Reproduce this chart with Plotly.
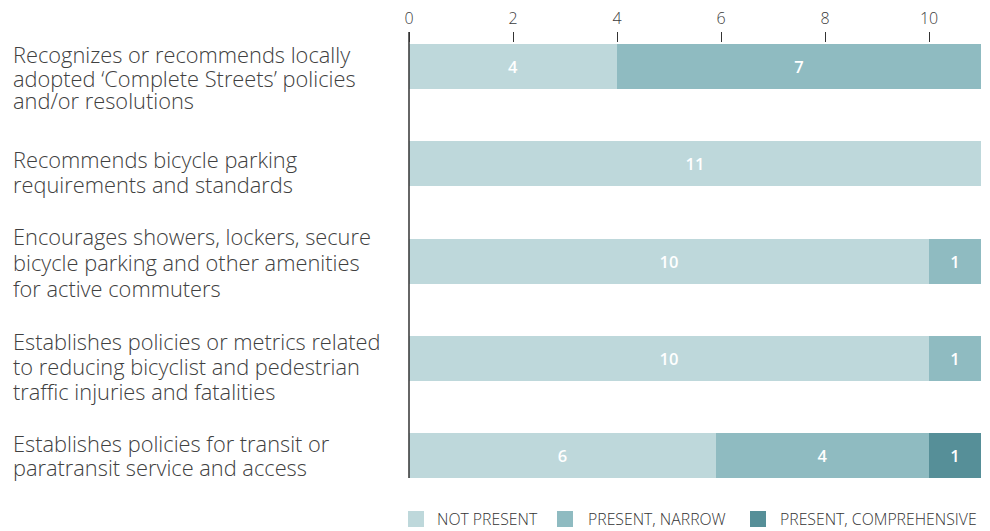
import plotly.graph_objects as go

categories = [
    "Recognizes or recommends locally<br>adopted ‘Complete Streets’ policies<br>and/or resolutions",
    "Recommends bicycle parking<br>requirements and standards",
    "Encourages showers, lockers, secure<br>bicycle parking and other amenities<br>for active commuters",
    "Establishes policies or metrics related<br>to reducing bicyclist and pedestrian<br>traffic injuries and fatalities",
    "Establishes policies for transit or<br>paratransit service and access",
]
series_names = ["NOT PRESENT", "PRESENT, NARROW", "PRESENT, COMPREHENSIVE"]
not_present = [4, 11, 10, 10, 5.9]
present_narrow = [7, None, 1, 1, 4.1]
present_comprehensive = [None, None, None, None, 1]
x_ticks = [0, 2, 4, 6, 8, 10]

colors = ["#bed8db", "#8fbbc1", "#568f98"]
FONT = "Open Sans"

W, H = 990, 531
ml, mr, mt, mb = 409, 9, 43, 53
ph = H - mt - mb
pw = W - ml - mr

positions = list(range(len(categories)))

fig = go.Figure()
for name, vals, col in zip(series_names, [not_present, present_narrow, present_comprehensive], colors):
    fig.add_trace(go.Bar(
        y=positions, x=vals, name=name, orientation="h",
        marker=dict(color=col, line=dict(width=0)),
        width=0.4625,
        texttemplate="%{x:.0f}", textposition="inside", insidetextanchor="middle",
        textfont=dict(family=FONT, size=16.5, color="white", weight=600),
        showlegend=False,
    ))

fig.update_layout(
    width=W, height=H,
    margin=dict(l=ml, r=mr, t=mt, b=mb, autoexpand=False),
    barmode="stack",
    plot_bgcolor="white", paper_bgcolor="white",
    font=dict(family=FONT, color="#444"),
    xaxis=dict(side="top", range=[0, 11], tickvals=x_ticks, ticks="outside", ticklen=10,
               tickcolor="#333", tickwidth=1.2, showgrid=False, zeroline=False, showline=False,
               automargin=False, ticklabelstandoff=2,
               tickfont=dict(family=FONT, size=16, color="#3c3c3c", weight=300)),
    yaxis=dict(range=[4.231, -0.2415], showticklabels=False, showgrid=False, zeroline=False,
               showline=False, ticks="", automargin=False),
)

def py2paper(py):
    return (H - mb - py) / ph

# vertical axis line extending up to the tick marks
fig.add_shape(type="line", xref="paper", yref="paper", x0=0, x1=0,
              y0=py2paper(478), y1=py2paper(32), line=dict(color="#333", width=1.5))

# category labels (left aligned), one annotation per line
label_line_centers_px = [
    [54, 78, 101],
    [159, 184],
    [237, 262, 288],
    [341, 366, 391],
    [443, 467],
]
for cat, centers in zip(categories, label_line_centers_px):
    for line, py in zip(cat.split("<br>"), centers):
        fig.add_annotation(
            text=line, xref="paper", yref="paper",
            x=(11 - ml) / pw, y=py2paper(py),
            xanchor="left", yanchor="middle", align="left", showarrow=False,
            font=dict(family=FONT, size=21.8, color="#404040", weight=300),
        )

# legend drawn manually
sq_x = [408, 557, 750]
txt_x = [435, 586, 778]
sq_y0, sq_y1 = 511, 527
for name, col, sx, tx in zip(series_names, colors, sq_x, txt_x):
    fig.add_shape(type="rect", xref="paper", yref="paper",
                  x0=(sx - ml) / pw, x1=(sx + 16 - ml) / pw,
                  y0=py2paper(sq_y1), y1=py2paper(sq_y0),
                  fillcolor=col, line=dict(width=0))
    fig.add_annotation(text=name, xref="paper", yref="paper",
                       x=(tx - ml) / pw, y=py2paper(519),
                       xanchor="left", yanchor="middle", showarrow=False,
                       font=dict(family=FONT, size=15.8, color="#333", weight=300))

fig.write_html("out.html")
